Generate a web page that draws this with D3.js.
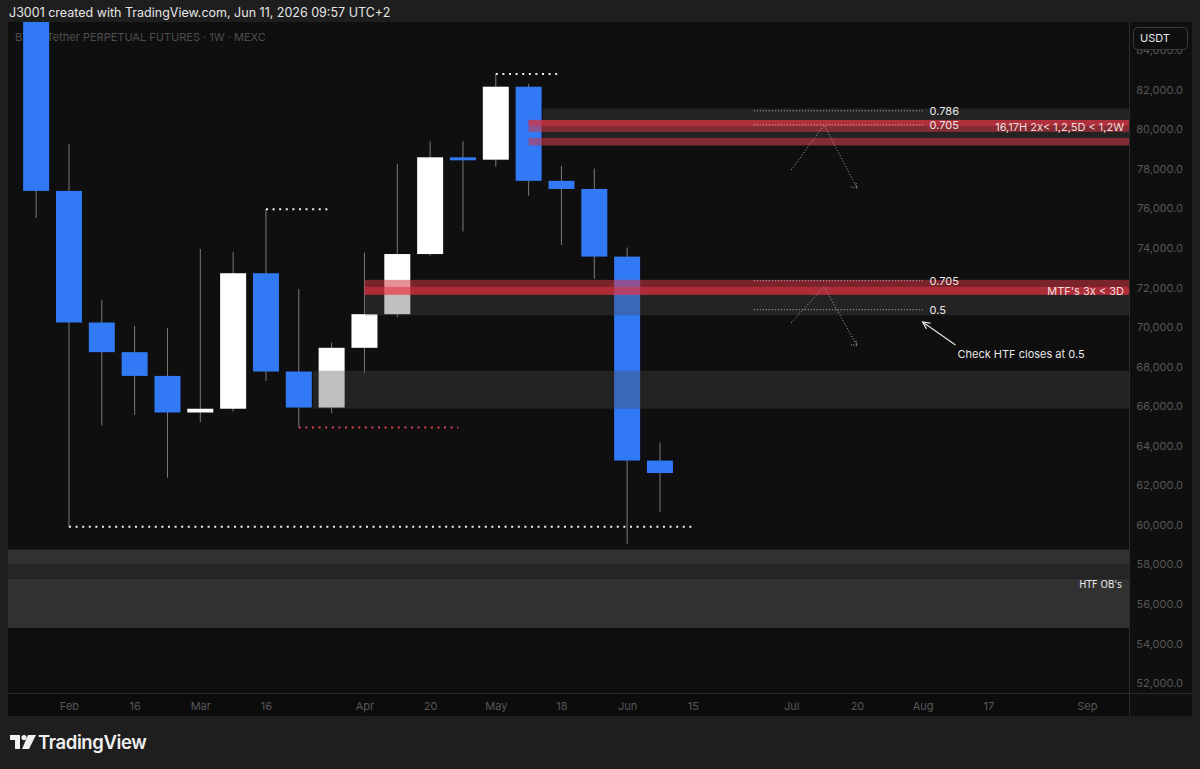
<!DOCTYPE html>
<html><head><meta charset="utf-8">
<script src="https://cdn.jsdelivr.net/npm/d3@7"></script>
<style>
html,body{margin:0;padding:0;background:#1e1e1e;}
svg{display:block;font-family:"Inter","Roboto","Noto Sans",sans-serif;}
</style></head>
<body>
<svg id="c" width="1200" height="769"></svg>
<script>
// ---------- DATA ----------
const weeks = ["2026-01-26","2026-02-02","2026-02-09","2026-02-16","2026-02-23","2026-03-02","2026-03-09","2026-03-16","2026-03-23","2026-03-30","2026-04-06","2026-04-13","2026-04-20","2026-04-27","2026-05-04","2026-05-11","2026-05-18","2026-05-25","2026-06-01","2026-06-08"];
const opens  = [87800,76880,70230,68730,67530,65680,65870,72720,67750,65930,68950,70650,73690,78580,78460,82150,77390,76980,73560,63250];
const highs  = [89200,79240,71370,70060,69940,73950,73810,75960,71930,69220,73760,78250,79390,79390,82790,82290,78150,78010,74020,64160];
const lows   = [75520,59900,65020,65560,62380,65190,65730,67280,64920,65650,67670,70500,73610,74830,78110,76640,74150,72430,59040,60650];
const closes = [76880,70230,68730,67530,65680,65870,72720,67750,65930,68950,70650,73690,78580,78460,82150,77390,76980,73560,63250,62620];

const priceTicks = [52000,54000,56000,58000,60000,62000,64000,66000,68000,70000,72000,74000,76000,78000,80000,82000,84000];
const timeTickDates  = ["2026-02-02","2026-02-16","2026-03-02","2026-03-16","2026-04-06","2026-04-20","2026-05-04","2026-05-18","2026-06-01","2026-06-15","2026-07-06","2026-07-20","2026-08-03","2026-08-17","2026-09-07"];
const timeTickLabels = ["Feb","16","Mar","16","Apr","20","May","18","Jun","15","Jul","20","Aug","17","Sep"];

// zones
const zoneStarts  = ["2026-05-14","2026-04-06","2026-03-26","2026-01-01","2026-01-01","2026-01-01"];
const zoneTops    = [81050,71628,67787,58749,57991,57268];
const zoneBottoms = [79180,70592,65867,57991,57268,54785];
const zoneKinds   = ["gray","gray","gray","ob1","ob2","ob1"];

const redStarts  = ["2026-05-11","2026-05-11","2026-05-11","2026-04-06","2026-04-06"];
const redTops    = [80470,80470,79560,72386,72032];
const redBottoms = [79864,80167,79181,71628,71628];

// dotted levels
const levelFrom  = ["2026-05-04","2026-03-16","2026-02-02","2026-03-23"];
const levelTo    = ["2026-05-18","2026-03-30","2026-06-15","2026-04-26"];
const levelPrice = [82794,75958,59904,64921];
const levelKind  = ["white","white","white","red"];

// fib levels
const fibFrom   = "2026-06-28";
const fibTo     = "2026-08-03";
const fibPrices = [80930,80217,72340,70874];
const fibLabels = ["0.786","0.705","0.705","0.5"];

// zigzag projections
const zigDates  = ["2026-07-06","2026-07-13","2026-07-20"];
const zigTop    = [77943,80217,77034];
const zigMid    = [70217,72036,69055];

const zoneNotes = [{t:"16,17H 2x< 1,2,5D < 1,2W", p:80120},{t:"MTF's 3x < 3D", p:71830}];
const htfNote = {t:"HTF OB's", p:57000};
const checkNote = {t:"Check HTF closes at 0.5", from:["2026-08-10",69095], to:["2026-08-03",70258], p:68650};

// ---------- LAYOUT ----------
const svg = d3.select("#c");
const L=8, R=1129, T=22, B=693, AX=1192, BOT=716;
const parse = d3.utcParse("%Y-%m-%d");
const x = d3.scaleUtc().domain([parse("2026-01-20"), parse("2026-09-16")]).range([L,R]);
const y = d3.scaleLinear().domain([51500,85420]).range([B,T]);

svg.append("text").attr("x",9).attr("y",17).attr("fill","#e6e6e6").attr("font-size",12.5)
  .text("J3001 created with TradingView.com, Jun 11, 2026 09:57 UTC+2");

svg.append("rect").attr("x",L).attr("y",T).attr("width",AX-L).attr("height",BOT-T).attr("fill","#0f0f0f");
svg.append("defs").append("clipPath").attr("id","clip").append("rect").attr("x",L).attr("y",T).attr("width",R-L).attr("height",B-T);

svg.append("text").attr("x",15).attr("y",41).attr("fill","#4d4d4d").attr("font-size",11)
  .text("BTC / Tether PERPETUAL FUTURES · 1W · MEXC");

const g = svg.append("g").attr("clip-path","url(#clip)");

// candles
const data = weeks.map((d,i)=>({d:parse(d),o:opens[i],h:highs[i],l:lows[i],c:closes[i]}));
const bw = 26;
const cg = g.append("g");
cg.selectAll("line.w").data(data).join("line")
  .attr("x1",d=>x(d.d)).attr("x2",d=>x(d.d)).attr("y1",d=>y(d.h)).attr("y2",d=>y(d.l))
  .attr("stroke","#7a7a7a").attr("stroke-width",1);
cg.selectAll("rect.b").data(data).join("rect")
  .attr("x",d=>x(d.d)-bw/2).attr("width",bw)
  .attr("y",d=>y(Math.max(d.o,d.c))).attr("height",d=>Math.max(3,Math.abs(y(d.o)-y(d.c))))
  .attr("fill",d=>d.c>=d.o?"#ffffff":"#3179f5");

// zones
const zoneFill = {gray:"rgba(75,75,75,0.35)", ob1:"rgba(62,62,62,0.75)", ob2:"rgba(45,45,45,0.75)"};
zoneStarts.forEach((s,i)=>{
  g.append("rect").attr("x",x(parse(s))).attr("width",R-x(parse(s)))
   .attr("y",y(zoneTops[i])).attr("height",y(zoneBottoms[i])-y(zoneTops[i]))
   .attr("fill",zoneFill[zoneKinds[i]]);
});
redStarts.forEach((s,i)=>{
  g.append("rect").attr("x",x(parse(s))).attr("width",R-x(parse(s)))
   .attr("y",y(redTops[i])).attr("height",y(redBottoms[i])-y(redTops[i]))
   .attr("fill","rgba(214,52,68,0.55)");
});

// dotted levels
levelFrom.forEach((f,i)=>{
  g.append("line").attr("x1",x(parse(f))).attr("x2",x(parse(levelTo[i])))
   .attr("y1",y(levelPrice[i])).attr("y2",y(levelPrice[i]))
   .attr("stroke",levelKind[i]==="red"?"#d8404f":"#f0f0f0").attr("stroke-width",2)
   .attr("stroke-dasharray","2,4.6");
});

// fib lines + labels
fibPrices.forEach((p,i)=>{
  g.append("line").attr("x1",x(parse(fibFrom))).attr("x2",x(parse(fibTo)))
   .attr("y1",y(p)).attr("y2",y(p)).attr("stroke","#c8c8c8").attr("stroke-width",1).attr("stroke-dasharray","1,2");
  g.append("text").attr("x",x(parse(fibTo))+7).attr("y",y(p)+4).attr("fill","#e8e8e8").attr("font-size",11).text(fibLabels[i]);
});

// zigzags
[zigTop, zigMid].forEach(arr=>{
  const pts = zigDates.map((d,i)=>[x(parse(d)),y(arr[i])]);
  g.append("path").attr("d",d3.line()(pts)).attr("fill","none").attr("stroke","#b0b0b0")
   .attr("stroke-width",1).attr("stroke-dasharray","1,2");
  const e = pts[2];
  g.append("path").attr("d",d3.line()([[e[0]-6,e[1]-1],e,[e[0]-1,e[1]-5]])).attr("fill","none")
   .attr("stroke","#b0b0b0").attr("stroke-width",1).attr("stroke-dasharray","1,1.5");
});

// notes
zoneNotes.forEach(n=>{
  g.append("text").attr("x",R-5).attr("y",y(n.p)+4).attr("text-anchor","end")
   .attr("fill","#f2dede").attr("font-size",11).text(n.t);
});
g.append("text").attr("x",R-7).attr("y",y(htfNote.p)+4).attr("text-anchor","end")
  .attr("fill","#e8e8e8").attr("font-size",10.5).attr("font-family","Liberation Sans Narrow, DejaVu Sans Condensed, sans-serif").text(htfNote.t);

const a0=[x(parse(checkNote.from[0])),y(checkNote.from[1])], a1=[x(parse(checkNote.to[0])),y(checkNote.to[1])];
g.append("line").attr("x1",a0[0]).attr("y1",a0[1]).attr("x2",a1[0]).attr("y2",a1[1]).attr("stroke","#e0e0e0").attr("stroke-width",1.2);
{
  const ang = Math.atan2(a1[1]-a0[1],a1[0]-a0[0]);
  const hl=8, sp=0.45;
  const p1=[a1[0]-hl*Math.cos(ang-sp),a1[1]-hl*Math.sin(ang-sp)];
  const p2=[a1[0]-hl*Math.cos(ang+sp),a1[1]-hl*Math.sin(ang+sp)];
  g.append("path").attr("d",d3.line()([p1,a1,p2])).attr("fill","none").attr("stroke","#e0e0e0").attr("stroke-width",1.2);
}
g.append("text").attr("x",a0[0]+2).attr("y",y(checkNote.p)+4).attr("fill","#e8e8e8").attr("font-size",11).text(checkNote.t);

// price axis
svg.append("line").attr("x1",R+0.5).attr("x2",R+0.5).attr("y1",T).attr("y2",BOT).attr("stroke","#2b2b2b");
const yAxis = svg.append("g").attr("transform",`translate(${AX-9},0)`)
  .call(d3.axisRight(y).tickValues(priceTicks).tickSize(0).tickFormat(d=>d3.format(",.1f")(d)));
yAxis.select(".domain").remove();
yAxis.selectAll("text").attr("text-anchor","end").attr("x",0).attr("fill","#575757").attr("font-size",11)
  .attr("font-family","Inter, Roboto, sans-serif");

svg.append("rect").attr("x",1133.5).attr("y",27.5).attr("width",54).attr("height",22).attr("rx",4)
  .attr("fill","#0f0f0f").attr("stroke","#3a3a3a");
svg.append("text").attr("x",1140).attr("y",42).attr("fill","#e8e8e8").attr("font-size",11).text("USDT");

// time axis
svg.append("line").attr("x1",L).attr("x2",AX).attr("y1",B+0.5).attr("y2",B+0.5).attr("stroke","#2b2b2b");
svg.append("rect").attr("x",L).attr("y",B+1).attr("width",R-L).attr("height",BOT-B-1).attr("fill","#0c0c0c");
const xAxis = svg.append("g").attr("transform",`translate(0,${B})`)
  .call(d3.axisBottom(x).tickValues(timeTickDates.map(parse)).tickSize(0)
    .tickFormat((d,i)=>timeTickLabels[i]));
xAxis.select(".domain").remove();
xAxis.selectAll("text").attr("y",9).attr("fill","#575757").attr("font-size",11).attr("font-family","Inter, Roboto, sans-serif");

// logo
const lg = svg.append("g").attr("transform","translate(10,735)");
lg.append("path").attr("d","M0,0 H10 V14 H5 V5 H0 Z").attr("fill","#f0f0f0");
lg.append("circle").attr("cx",14).attr("cy",2.6).attr("r",2.6).attr("fill","#f0f0f0");
lg.append("path").attr("d","M18,0 H26 L19,14 H12 Z").attr("fill","#f0f0f0");
svg.append("text").attr("x",38).attr("y",749).attr("fill","#f0f0f0").attr("font-size",18.5).attr("font-weight",600)
  .attr("letter-spacing",-0.4).text("TradingView");
</script>
</body></html>
